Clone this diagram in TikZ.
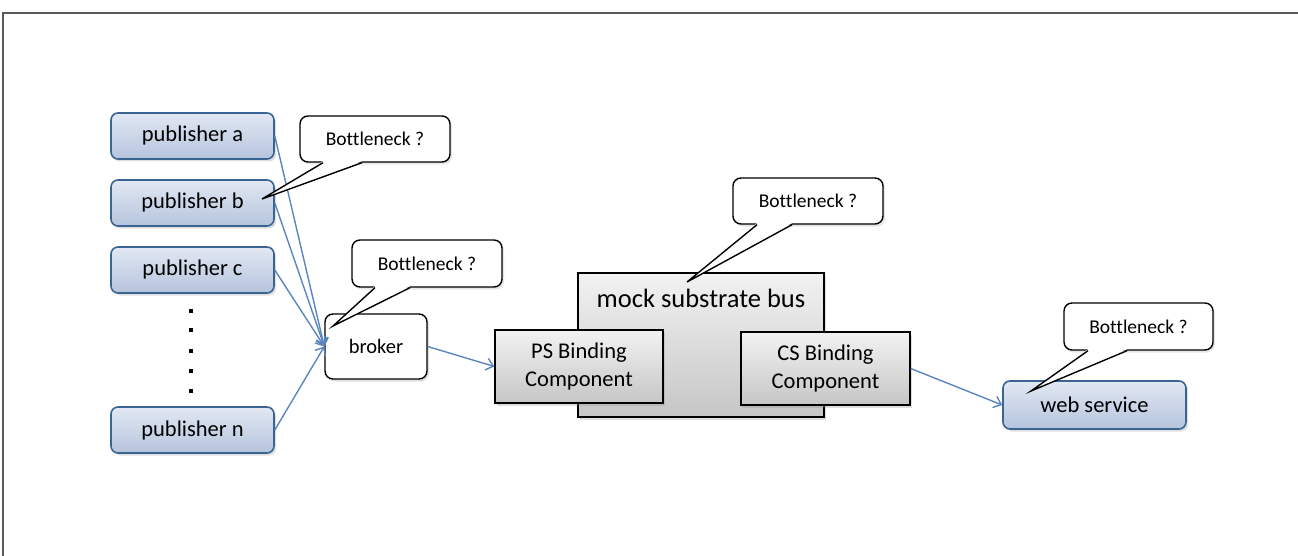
\documentclass[tikz,border=0pt]{standalone}
\usepackage{fontspec}
\setmainfont[Ligatures=CommonOff]{Carlito}
\usetikzlibrary{shadows,arrows.meta}
\definecolor{pubtop}{HTML}{E2E8F3}
\definecolor{pubbot}{HTML}{B5C4DD}
\definecolor{publine}{HTML}{3A6593}
\definecolor{arrowblue}{HTML}{5A86C0}
\definecolor{graytop}{HTML}{F2F2F2}
\definecolor{graybot}{HTML}{C6C6C6}
\tikzset{
  pubbox/.style={draw=publine, line width=1.6pt, rounded corners=7pt,
    top color=pubtop, bottom color=pubbot, font=\fontsize{22.5}{26}\selectfont,
    drop shadow={opacity=0.25, shadow xshift=2pt, shadow yshift=-2.5pt}},
  whitebox/.style={draw=black, line width=1.4pt, rounded corners=8pt, fill=white,
    font=\fontsize{20.5}{24}\selectfont,
    drop shadow={opacity=0.25, shadow xshift=2pt, shadow yshift=-2.5pt}},
  callout/.style={draw=black, line width=1.4pt, rounded corners=8pt, fill=white,
    font=\fontsize{19.5}{22}\selectfont,
    drop shadow={opacity=0.2, shadow xshift=2pt, shadow yshift=-2.5pt}},
  graybox/.style={draw=black, line width=1.3pt, top color=graytop, bottom color=graybot,
    drop shadow={opacity=0.25, shadow xshift=2pt, shadow yshift=-2.5pt}},
  comptext/.style={font=\fontsize{22.5}{28}\selectfont, align=center},
  flow/.style={draw=arrowblue, line width=1.4pt, -{Straight Barb[length=7pt,width=12pt]}},
  tail/.style={draw=black, line width=1.4pt},
}
\begin{document}
\begin{tikzpicture}[x=1pt,y=-1pt]
\useasboundingbox (0,0) rectangle (1298,556);
% frame
\draw[gray!70!black, line width=1.8pt] (1298,13) -- (3,13) -- (3,556);

% publishers
\node[pubbox, minimum width=163pt, minimum height=46pt] (pa) at (192.5,136) {publisher a};
\node[pubbox, minimum width=163pt, minimum height=46pt] (pb) at (192.5,203) {publisher b};
\node[pubbox, minimum width=163pt, minimum height=46pt] (pc) at (192.5,270) {publisher c};
\node[pubbox, minimum width=163pt, minimum height=46pt] (pn) at (192.5,430) {publisher n};
\foreach \yy/\nm in {311/d1,330/d2,351/d3,371/d4,391/d5}
  \node[fill=black, minimum size=3.2pt, inner sep=0pt] (\nm) at (191,\yy) {};

% broker
\node[whitebox, minimum width=102pt, minimum height=65pt] (broker) at (376,346.5) {broker};

% bus
\node[graybox, minimum width=246pt, minimum height=144pt] (bus) at (701,345) {};
\node[font=\fontsize{26.5}{30}\selectfont] (bustext) at (701,298) {mock substrate bus};
\node[graybox, comptext, minimum width=168pt, minimum height=73pt] (ps) at (579,366.5) {PS Binding\\Component};
\node[graybox, comptext, minimum width=169pt, minimum height=73pt] (cs) at (825.5,368.5) {CS Binding\\Component};

% web service
\node[pubbox, minimum width=183pt, minimum height=48pt] (web) at (1094.5,405) {web service};

% connectors
\draw[flow] (pa.east) -- (broker.west);
\draw[flow] (pb.east) -- (broker.west);
\draw[flow] (pc.east) -- (broker.west);
\draw[flow] (pn.east) -- (broker.west);
\draw[flow] (broker.east) -- (ps.west);
\draw[flow] (cs.east) -- (web.west);

% callouts
\node[callout, minimum width=150pt, minimum height=46pt] (c1) at (375,139) {Bottleneck ?};
\node[callout, minimum width=150pt, minimum height=47pt] (c2) at (427,263.5) {Bottleneck ?};
\node[callout, minimum width=150pt, minimum height=46pt] (c3) at (808,201) {Bottleneck ?};
\node[callout, minimum width=149pt, minimum height=47pt] (c4) at (1138.5,326.5) {Bottleneck ?};

\coordinate (t1) at (262,199);
\coordinate (t2) at (333,326);
\coordinate (t3) at (687,282);
\coordinate (t4) at (1031,391);

\foreach \c/\t/\a/\b in {c1/t1/323/362, c2/t2/375/410, c3/t3/757/792, c4/t4/1088/1127}{
  \fill[white] ([yshift=1.5pt]\a,0 |- \c.south) -- (\t) -- ([yshift=1.5pt]\b,0 |- \c.south) -- cycle;
  \draw[tail, line join=miter] (\a,0 |- \c.south) -- (\t) -- (\b,0 |- \c.south);
}
\end{tikzpicture}
\end{document}
